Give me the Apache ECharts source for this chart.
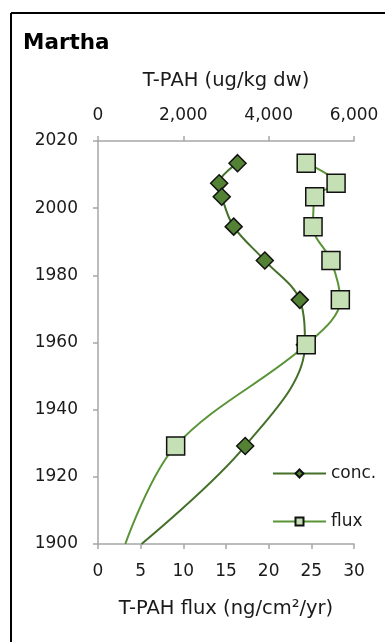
<!DOCTYPE html>
<html>
<head>
<meta charset="utf-8">
<script src="https://cdn.jsdelivr.net/npm/echarts@6/dist/echarts.min.js"></script>
<style>
  html, body { margin: 0; padding: 0; background: #fff; }
  #chart { width: 385px; height: 642px; }
</style>
</head>
<body>
<div id="chart"></div>
<script>
// Core years (sample mid-points) and the 1900 base of the fitted curves
const years = [2013.4, 2007.4, 2003.4, 1994.5, 1984.4, 1972.7, 1959.3, 1929.2, 1900];
// T-PAH concentration, ug/kg dw (top axis)
const concValues = [3270, 2840, 2900, 3180, 3910, 4730, 4850, 3450, 1020];
// T-PAH flux, ng/cm2/yr (bottom axis)
const fluxValues = [24.4, 27.9, 25.4, 25.2, 27.3, 28.4, 24.4, 9.1, 3.2];
// The last entry of each series only anchors the curve; it carries no marker
const markedCount = 8;

const concTicks = [0, 2000, 4000, 6000];
const fluxTicks = [0, 5, 10, 15, 20, 25, 30];
const yearTicks = [1900, 1920, 1940, 1960, 1980, 2000, 2020];

const FONT = '"DejaVu Sans", "Liberation Sans", sans-serif';
const AXIS_GREY = '#a6a6a6';
const TEXT = '#1a1a1a';

function points(values) {
  return values.map((v, i) => {
    const item = { value: [v, years[i]] };
    if (i >= markedCount) item.symbol = 'none';
    return item;
  });
}

const chart = echarts.init(document.getElementById('chart'), null, { renderer: 'canvas' });

const axisCommon = {
  type: 'value',
  splitLine: { show: false },
  axisLine: { show: true, onZero: false, lineStyle: { color: AXIS_GREY, width: 1.5 } },
  axisTick: { show: true, inside: false, length: 5, lineStyle: { color: AXIS_GREY, width: 1.5 } },
  axisLabel: { color: TEXT, fontSize: 17, fontFamily: FONT }
};

chart.setOption({
  animation: false,
  backgroundColor: '#ffffff',
  grid: { left: 98, right: 31, top: 141, bottom: 98, containLabel: false },
  title: {
    text: 'Martha',
    left: 18, top: 27,
    textStyle: { fontSize: 21.5, fontWeight: 'bold', color: '#000', fontFamily: FONT }
  },
  graphic: [
    { type: 'line', shape: { x1: 11, y1: 13, x2: 385, y2: 13 }, style: { stroke: '#000', lineWidth: 2 } },
    { type: 'line', shape: { x1: 11, y1: 13, x2: 11, y2: 642 }, style: { stroke: '#000', lineWidth: 2 } }
  ],
  legend: {
    orient: 'vertical',
    left: 272, top: 465,
    padding: 0,
    itemWidth: 53, itemHeight: 10,
    itemGap: 31,
    textStyle: { fontSize: 17, color: TEXT, fontFamily: FONT },
    data: ['conc.', 'flux']
  },
  xAxis: [
    Object.assign({}, axisCommon, {
      position: 'bottom',
      min: fluxTicks[0], max: fluxTicks[fluxTicks.length - 1], interval: 5,
      name: 'T-PAH flux (ng/cm²/yr)',
      nameLocation: 'middle', nameGap: 55,
      nameTextStyle: { fontSize: 19.5, color: TEXT, fontFamily: FONT },
      axisLabel: Object.assign({}, axisCommon.axisLabel, { margin: 19 })
    }),
    Object.assign({}, axisCommon, {
      position: 'top',
      min: concTicks[0], max: concTicks[concTicks.length - 1], interval: 2000,
      name: 'T-PAH (ug/kg dw)',
      nameLocation: 'middle', nameGap: 50,
      nameTextStyle: { fontSize: 19.5, color: TEXT, fontFamily: FONT },
      axisLabel: Object.assign({}, axisCommon.axisLabel, {
        margin: 17,
        formatter: v => v.toLocaleString('en-US')
      })
    })
  ],
  yAxis: Object.assign({}, axisCommon, {
    min: yearTicks[0], max: yearTicks[yearTicks.length - 1], interval: 20,
    axisLabel: Object.assign({}, axisCommon.axisLabel, {
      margin: 20,
      formatter: v => String(v)
    })
  }),
  series: [
    {
      name: 'conc.',
      type: 'line',
      xAxisIndex: 1,
      data: points(concValues),
      smooth: 0.35,
      symbol: 'diamond',
      symbolSize: 17,
      lineStyle: { color: '#44702a', width: 2 },
      itemStyle: { color: '#548235', borderColor: '#111', borderWidth: 1.5 },
      z: 2
    },
    {
      name: 'flux',
      type: 'line',
      xAxisIndex: 0,
      data: points(fluxValues),
      smooth: 0.35,
      symbol: 'rect',
      symbolSize: 18,
      lineStyle: { color: '#5a9437', width: 2 },
      itemStyle: { color: '#c5e0b4', borderColor: '#111', borderWidth: 1.5 },
      z: 3
    }
  ]
});
</script>
</body>
</html>
